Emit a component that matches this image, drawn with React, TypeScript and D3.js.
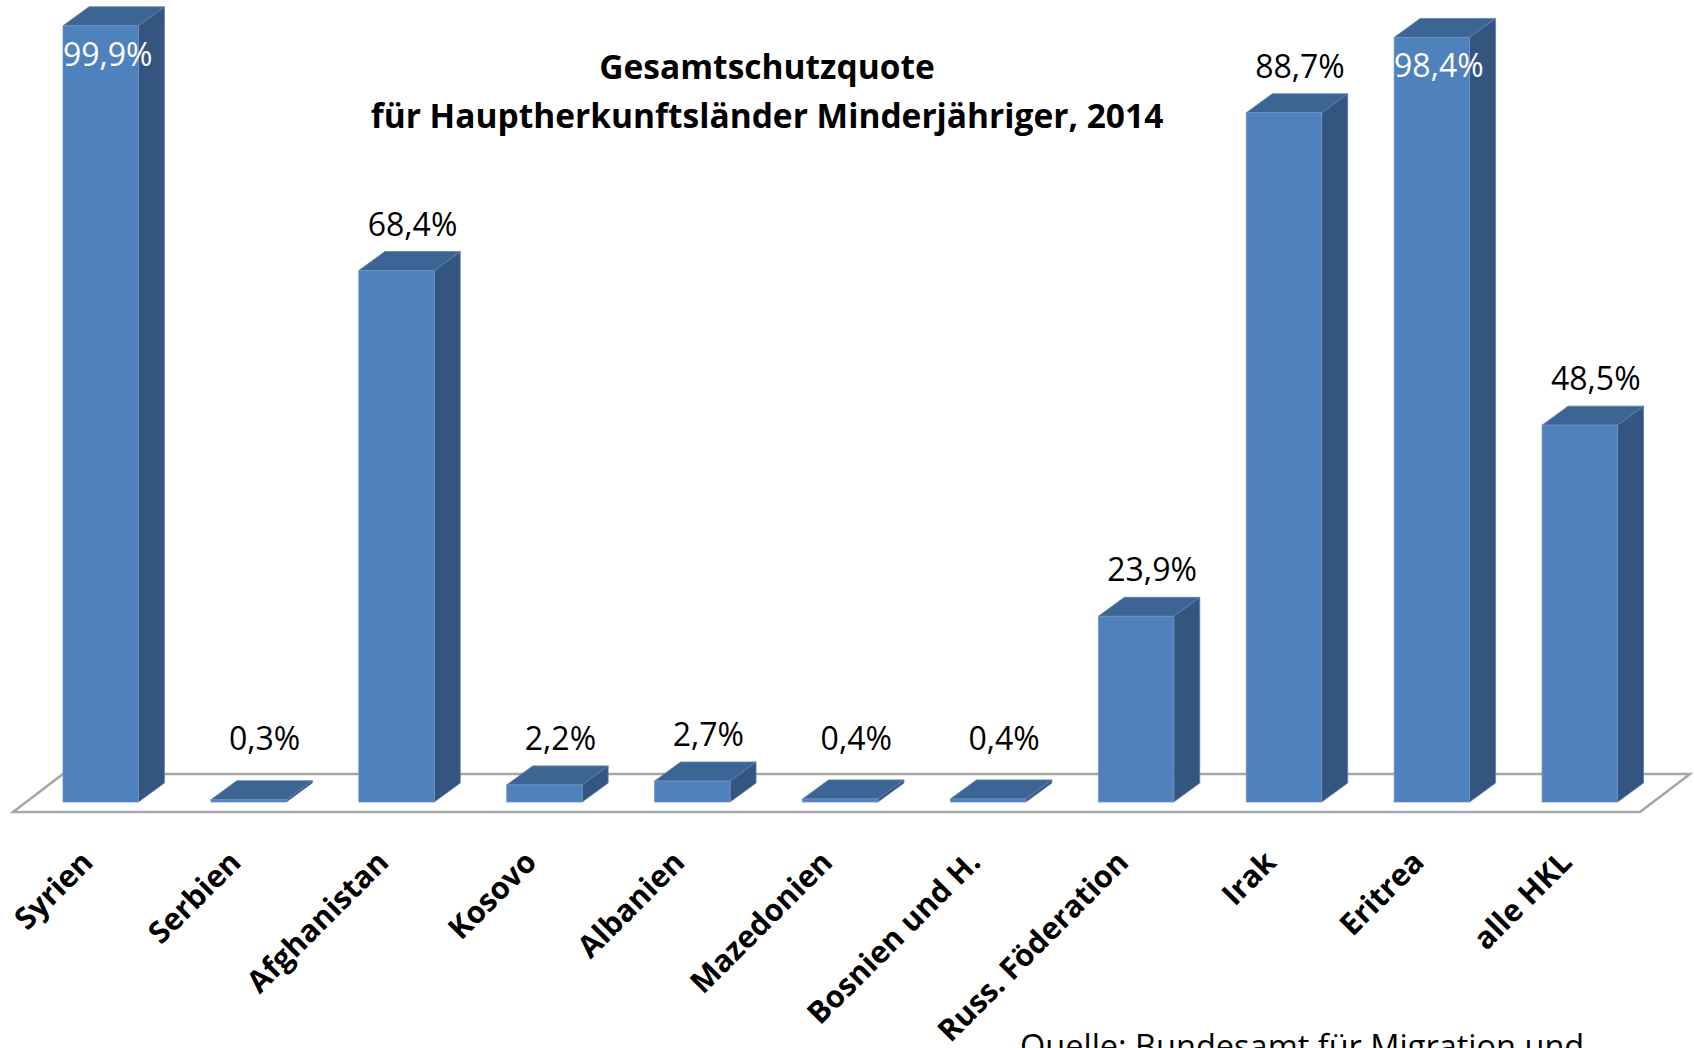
// Gesamtschutzquote für Hauptherkunftsländer Minderjähriger, 2014 – 3D column chart
import React, { useEffect, useRef } from 'react';
import * as d3 from 'd3';

const categories = [
  'Syrien',
  'Serbien',
  'Afghanistan',
  'Kosovo',
  'Albanien',
  'Mazedonien',
  'Bosnien und H.',
  'Russ. Föderation',
  'Irak',
  'Eritrea',
  'alle HKL',
];
const values = [99.9, 0.3, 68.4, 2.2, 2.7, 0.4, 0.4, 23.9, 88.7, 98.4, 48.5];
const titleLines = ['Gesamtschutzquote', 'für Hauptherkunftsländer Minderjähriger, 2014'];
const sourceNote = 'Quelle: Bundesamt für Migration und';

const App: React.FC = () => {
  const svgRef = useRef<SVGSVGElement>(null);

  useEffect(() => {
    const svg = d3.select(svgRef.current);
    svg.selectAll('*').remove();

    const width = 1694;
    const height = 1048;
    const font = '"Open Sans", "DejaVu Sans", sans-serif';
    const depth = { dx: 26, dy: 19 }; // bar depth offset
    const floorDepth = { dx: 50, dy: 38 };

    const colors = {
      front: '#4f81bd',
      side: '#33557f',
      top: '#3d6594',
      floor: '#a6a6a6',
    };

    const xScale = d3
      .scaleBand<string>()
      .domain(categories)
      .range([63, 1617.5])
      .paddingInner(0.49)
      .paddingOuter(0);

    const yScale = d3.scaleLinear().domain([0, 100]).range([802, 25]);

    svg.attr('width', width).attr('height', height);

    // floor of the 3D plot
    const floorFront = 812;
    const floorLeft = 13;
    const floorRight = 1640;
    svg
      .append('path')
      .attr(
        'd',
        `M${floorLeft},${floorFront} L${floorRight},${floorFront} L${floorRight + floorDepth.dx},${floorFront - floorDepth.dy} L${floorLeft + floorDepth.dx},${floorFront - floorDepth.dy} Z`
      )
      .attr('fill', '#fff')
      .attr('stroke', colors.floor)
      .attr('stroke-width', 2.5)
      .attr('stroke-linejoin', 'miter');

    const bw = xScale.bandwidth();
    const y0 = yScale(0);

    categories.forEach((cat, i) => {
      const x = xScale(cat) as number;
      const yTop = yScale(values[i]);
      const { dx, dy } = depth;

      // side face
      svg
        .append('path')
        .attr('d', `M${x + bw},${yTop} L${x + bw + dx},${yTop - dy} L${x + bw + dx},${y0 - dy} L${x + bw},${y0} Z`)
        .attr('fill', colors.side)
        .attr('stroke', '#5a7fae')
        .attr('stroke-width', 0.8);

      // top face
      svg
        .append('path')
        .attr('d', `M${x},${yTop} L${x + dx},${yTop - dy} L${x + bw + dx},${yTop - dy} L${x + bw},${yTop} Z`)
        .attr('fill', colors.top)
        .attr('stroke', '#5a7fae')
        .attr('stroke-width', 0.8);

      // front face
      svg
        .append('rect')
        .attr('x', x)
        .attr('y', yTop)
        .attr('width', bw)
        .attr('height', y0 - yTop)
        .attr('fill', colors.front)
        .attr('stroke', '#6d95c9')
        .attr('stroke-width', 0.8);
    });

    // value labels
    categories.forEach((cat, i) => {
      const x = (xScale(cat) as number) + bw / 2;
      const yTop = yScale(values[i]);
      const inside = values[i] > 95;
      svg
        .append('text')
        .attr('x', inside ? x + 7 : x + 16)
        .attr('y', inside ? yTop + 40 : Math.min(yTop - 35, 750))
        .attr('text-anchor', 'middle')
        .attr('fill', inside ? '#fff' : '#000')
        .style('font-family', font)
        .style('font-size', '32px')
        .text(`${d3.format('.1f')(values[i]).replace('.', ',')}%`);
    });

    // category labels, rotated
    categories.forEach((cat) => {
      const cx = (xScale(cat) as number) + bw / 2 - 6;
      const cy = 864;
      svg
        .append('text')
        .attr('transform', `translate(${cx},${cy}) rotate(-45)`)
        .attr('text-anchor', 'end')
        .attr('fill', '#000')
        .style('font-family', font)
        .style('font-size', '30.5px')
        .style('font-weight', '700')
        .text(cat);
    });

    // title
    titleLines.forEach((line, i) => {
      svg
        .append('text')
        .attr('x', 767)
        .attr('y', 79 + i * 48.5)
        .attr('text-anchor', 'middle')
        .attr('fill', '#000')
        .style('font-family', font)
        .style('font-size', '33.5px')
        .style('font-weight', '700')
        .text(line);
    });

    // source note (cut off at the bottom edge, as in the original)
    svg
      .append('text')
      .attr('x', 1020)
      .attr('y', 1058)
      .attr('fill', '#000')
      .style('font-family', font)
      .style('font-size', '32.5px')
      .text(sourceNote);
  }, []);

  return (
    <svg
      ref={svgRef}
      style={{ position: 'absolute', left: 0, top: 0, background: '#fff' }}
    ></svg>
  );
};

export default App;
